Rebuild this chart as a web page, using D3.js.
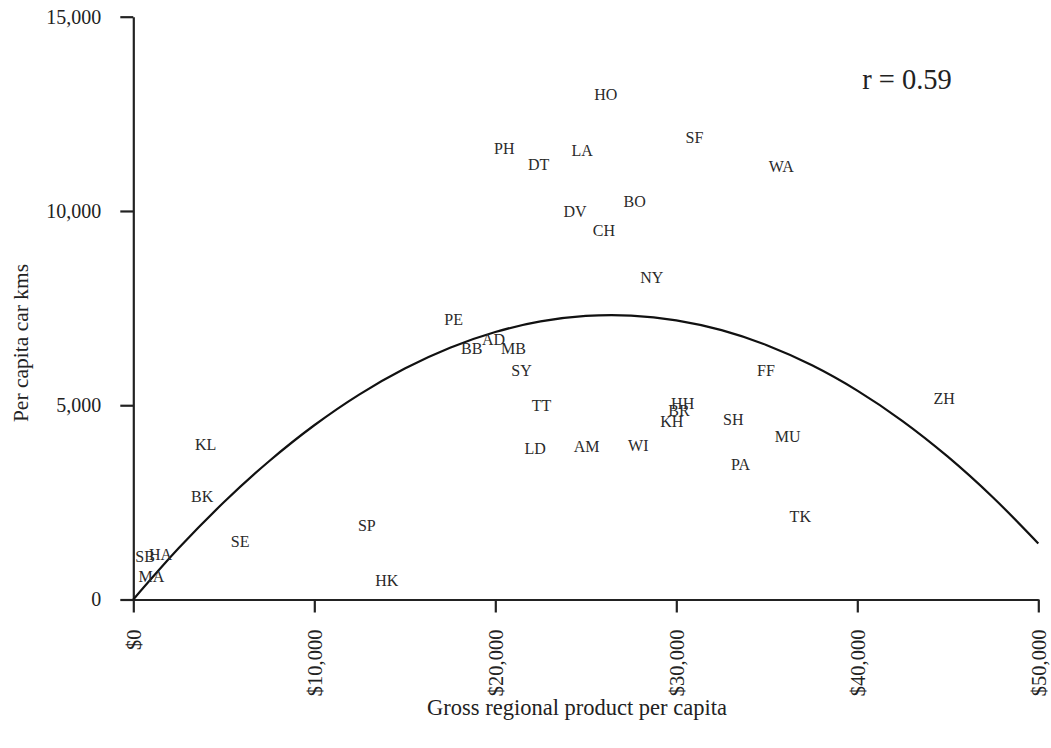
<!DOCTYPE html>
<html>
<head>
<meta charset="utf-8">
<script src="https://cdn.jsdelivr.net/npm/d3@7"></script>
<style>
  html, body { margin: 0; padding: 0; background: #fff; }
  svg { display: block; font-family: "Liberation Serif", "Times New Roman", serif; }
</style>
</head>
<body>
<svg id="chart" width="1051" height="748"></svg>
<script>
// City codes with gross regional product per capita (US$) and per capita car kms
const cities = ["HO","SF","PH","LA","DT","WA","BO","DV","CH","NY","PE","BB","AD","MB","SY","TT","LD","AM","FF","HH","BR","KH","SH","MU","WI","PA","TK","ZH","KL","BK","SE","SB","HA","MA","SP","HK"];
const gdpPerCapita = [26100,31000,20500,24800,22400,35800,27700,24400,26000,28650,17700,18700,19900,21000,21450,22550,22200,25050,34950,30350,30150,29750,33150,36150,27900,33550,36850,44800,4000,3800,5900,650,1500,1000,12900,14000];
const carKms = [13000,11900,11600,11550,11200,11150,10250,10000,9500,8300,7200,6450,6700,6450,5900,5000,3900,3950,5900,5050,4870,4580,4630,4200,3970,3480,2130,5170,4000,2650,1500,1100,1170,600,1900,480];

// Fitted trend curve, sampled along the x axis
const trendX = [0,2500,5000,7500,10000,12500,15000,17500,20000,22500,25000,27500,30000,32500,35000,37500,40000,42500,45000,47500,50000];
const trendY = [0,1316,2502,3559,4485,5281,5946,6481,6885,7157,7299,7308,7186,6932,6545,6027,5376,4593,3676,2626,1443];

const xTicks = [0,10000,20000,30000,40000,50000];
const yTicks = [0,5000,10000,15000];
const xTitle = "Gross regional product per capita";
const yTitle = "Per capita car kms";
const corrLabel = "r = 0.59";

const svg = d3.select("#chart");
const ink = "#222";

const x = d3.scaleLinear().domain([0, 50000]).range([133.3, 1038.3]);
const y = d3.scaleLinear().domain([0, 15000]).range([599.5, 16.7]);

// Y axis
const yAxis = svg.append("g")
  .attr("transform", `translate(${x(0)},0)`)
  .call(d3.axisLeft(y).tickValues(yTicks).tickSize(13).tickSizeOuter(0).tickPadding(19)
    .tickFormat(d3.format(",")));

// X axis
const xAxis = svg.append("g")
  .attr("transform", `translate(0,${y(0)})`)
  .call(d3.axisBottom(x).tickValues(xTicks).tickSize(13).tickSizeOuter(0)
    .tickFormat(d => "$" + d3.format(",")(d)));

[xAxis, yAxis].forEach(g => {
  g.attr("font-family", null).attr("font-size", null);
  g.select(".domain").attr("stroke", ink).attr("stroke-width", 2.2);
  g.selectAll(".tick line").attr("stroke", ink).attr("stroke-width", 2.2);
  g.selectAll(".tick text").attr("fill", ink).style("font-size", "20px");
});

xAxis.selectAll(".tick text")
  .attr("transform", "rotate(-90)")
  .attr("x", -30)
  .attr("y", 0)
  .attr("dy", "0.35em")
  .attr("text-anchor", "end")
  .style("font-size", "20.5px");

// Trend curve
const line = d3.line()
  .x((d, i) => x(trendX[i]))
  .y(d => y(d))
  .curve(d3.curveCatmullRom);

svg.append("path")
  .datum(trendY)
  .attr("d", line)
  .attr("fill", "none")
  .attr("stroke", "#111")
  .attr("stroke-width", 2.2);

// City labels placed at each data point
svg.append("g")
  .selectAll("text")
  .data(cities)
  .join("text")
  .attr("x", (d, i) => x(gdpPerCapita[i]))
  .attr("y", (d, i) => y(carKms[i]))
  .attr("dy", "0.35em")
  .attr("text-anchor", "middle")
  .style("font-size", "16px")
  .attr("fill", "#2a2a2a")
  .text(d => d);

// Axis titles
svg.append("text")
  .attr("x", 577)
  .attr("y", 715)
  .attr("text-anchor", "middle")
  .style("font-size", "22.5px")
  .attr("fill", ink)
  .text(xTitle);

svg.append("text")
  .attr("transform", "translate(28,343) rotate(-90)")
  .attr("text-anchor", "middle")
  .style("font-size", "21.5px")
  .attr("fill", ink)
  .text(yTitle);

// Correlation coefficient
svg.append("text")
  .attr("x", 907)
  .attr("y", 89)
  .attr("text-anchor", "middle")
  .style("font-size", "28.5px")
  .attr("fill", ink)
  .text(corrLabel);
</script>
</body>
</html>
